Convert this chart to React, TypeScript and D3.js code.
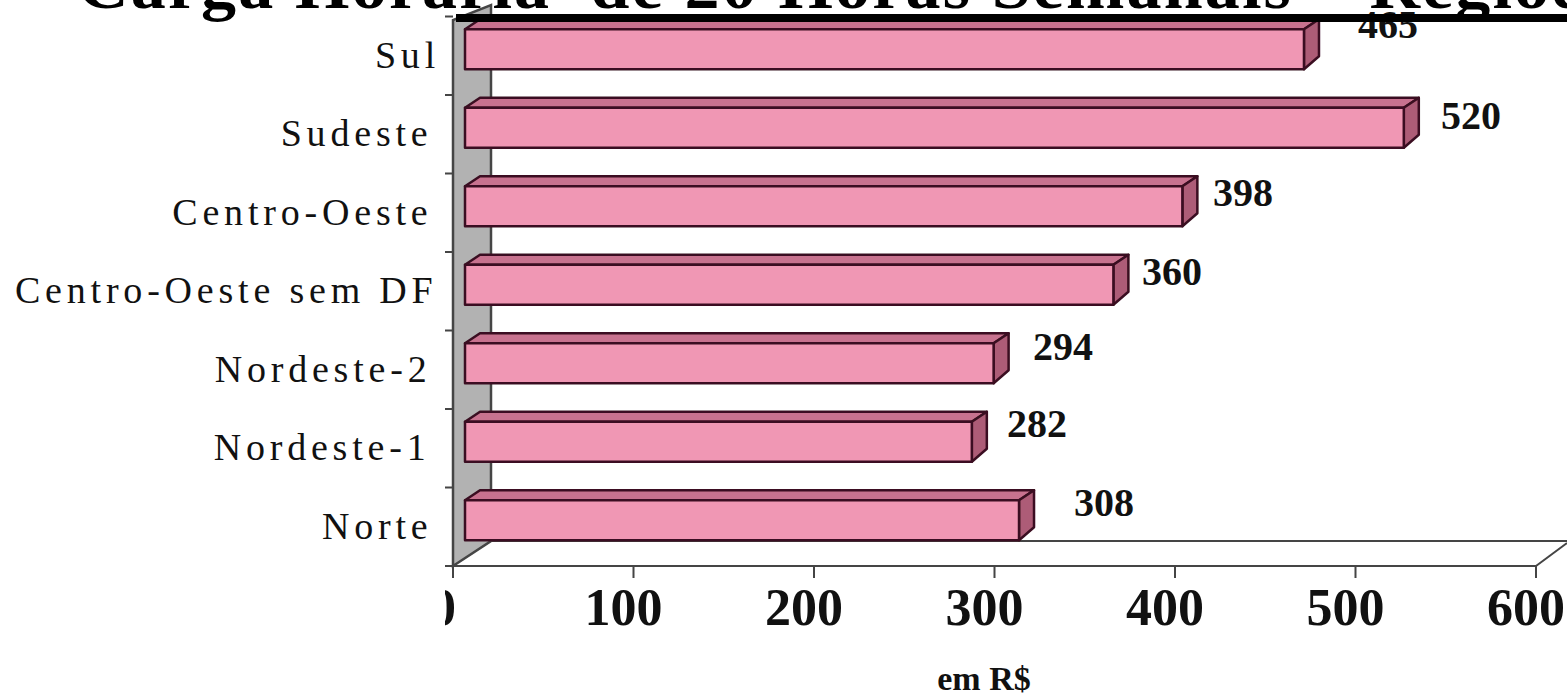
import React from "react";
import * as d3 from "d3";

const TITLE = "Carga Horária  de 20 Horas Semanais – Regiões";
const categories = ["Norte", "Nordeste-1", "Nordeste-2", "Centro-Oeste sem DF", "Centro-Oeste", "Sudeste", "Sul"];
const values = [308, 282, 294, 360, 398, 520, 465];
const xTicks = [0, 100, 200, 300, 400, 500, 600];
const xTitle = "em R$";
// hand-placement of the labels as seen in the picture
const valueLabelStart = [1074, 1007, 1033, 1142, 1213, 1441, 1358];
const valueLabelBase = [516, 437, 360, 285, 206, 129, 38];
const catLabelEnd = [432.5, 430.5, 431.5, 437.5, 432.5, 432.5, 440];

const serif = "'Liberation Serif', 'Times New Roman', serif";
const W = 1567, H = 695;
const floorY = 566, backY = 541;

export default function App() {
  const x = d3.scaleLinear().domain([0, 600]).range([453, 1536]);
  const xBar = d3.scaleLinear().domain([0, 600]).range([460, 1549]);
  const y = d3.scaleBand<string>().domain(categories).range([floorY, 16.5]).padding(0);
  const depthX = 15, depthY = 10, barH = 40;
  const barLeft = 465;
  return (
    <svg width={W} height={H} viewBox={`0 0 ${W} ${H}`} style={{ position: "absolute", left: 0, top: 0, background: "#fff", display: "block" }}>
      <defs>
        <clipPath id="zero"><rect x={445} y={570} width={40} height={70} /></clipPath>
        <filter id="soft"><feGaussianBlur stdDeviation="0.5" /></filter>
      </defs>
      <text transform="translate(78,8) scale(1.062,1)" fontFamily={serif} fontWeight="bold" fontSize={66} letterSpacing={2} fill="#000" style={{ whiteSpace: "pre" }}>{TITLE}</text>
      <g filter="url(#soft)">
        <polygon points={`453,${floorY} 491,${backY} 491,5 453,20`} fill="#b2b2b2" stroke="#444" strokeWidth={2.5} />
        <line x1={491} y1={backY} x2={W} y2={backY} stroke="#444" strokeWidth={2} />
        <line x1={x(600)} y1={floorY} x2={W} y2={floorY - 23} stroke="#444" strokeWidth={2} />
        <line x1={445} y1={floorY} x2={x(600)} y2={floorY} stroke="#444" strokeWidth={2} />
        {xTicks.map(t => <line key={t} x1={x(t)} x2={x(t)} y1={floorY} y2={floorY + 12} stroke="#444" strokeWidth={2} />)}
        {d3.range(categories.length + 1).map(i => {
          const ty = floorY - i * y.step();
          return <line key={i} x1={445} x2={453} y1={ty} y2={ty} stroke="#444" strokeWidth={2} />;
        })}
        {categories.map((c, i) => {
          const top = y(c)! + y.bandwidth() / 2 - 6.5 - barH / 2;
          const l = barLeft;
          const r = xBar(values[i]);
          return (
            <g key={c} stroke="#3a1020" strokeWidth={2.5} strokeLinejoin="round">
              <polygon points={`${l},${top} ${l + depthX},${top - depthY} ${r + depthX},${top - depthY} ${r},${top}`} fill="#c8728f" />
              <polygon points={`${r},${top} ${r + depthX},${top - depthY} ${r + depthX},${top + barH - 13} ${r},${top + barH}`} fill="#ad5c77" />
              <rect x={l} y={top} width={r - l} height={barH} fill="#f097b4" />
            </g>
          );
        })}
      </g>
      {categories.map((c, i) => (
        <text key={c} x={catLabelEnd[i]} y={y(c)! + y.bandwidth() / 2 + 12} textAnchor="end" fontFamily={serif} fontSize={38} letterSpacing={4.8} fill="#111">{c}</text>
      ))}
      {categories.map((c, i) => (
        <text key={c} x={valueLabelStart[i]} y={valueLabelBase[i]} fontFamily={serif} fontWeight="bold" fontSize={40} fill="#111">{values[i]}</text>
      ))}
      {xTicks.map(t => (
        <text key={t} x={x(t) - 10} y={625} textAnchor="middle" fontFamily={serif} fontWeight="bold" fontSize={52} fill="#111" clipPath={t === 0 ? "url(#zero)" : undefined}>{t}</text>
      ))}
      <text x={984} y={690} textAnchor="middle" fontFamily={serif} fontWeight="bold" fontSize={34} fill="#111">{xTitle}</text>
      <rect x={456} y={14} width={W - 456} height={8} fill="#000" />
    </svg>
  );
}
